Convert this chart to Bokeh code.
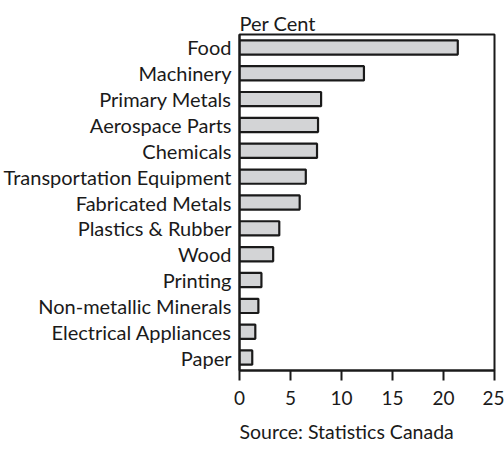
from bokeh.plotting import figure
from bokeh.models import FactorRange, Range1d, FixedTicker, Title
from bokeh.embed import file_html
from bokeh.resources import INLINE

categories = ["Food", "Machinery", "Primary Metals", "Aerospace Parts", "Chemicals",
              "Transportation Equipment", "Fabricated Metals", "Plastics & Rubber",
              "Wood", "Printing", "Non-metallic Minerals", "Electrical Appliances", "Paper"]
values = [21.4, 12.2, 8.0, 7.7, 7.6, 6.5, 5.9, 3.9, 3.3, 2.15, 1.85, 1.55, 1.25]
x_ticks = [0, 5, 10, 15, 20, 25]
source_text = "Source: Statistics Canada"

FONT = "Lato"
INK = "#1a1a1a"

p = figure(y_range=FactorRange(factors=list(reversed(categories)), range_padding=0),
           x_range=Range1d(0, 25),
           width=504, height=452,
           output_backend="svg", toolbar_location=None,
           min_border_left=238, min_border_right=10, min_border_top=34, min_border_bottom=80)

p.hbar(y=categories, right=values, height=0.55, left=0,
       fill_color="#d3d4d6", line_color=INK, line_width=2.2)

p.title.text = "Per Cent"
p.title.align = "left"
p.title.text_font = FONT
p.title.text_font_size = "20px"
p.title.text_font_style = "normal"
p.title.text_color = INK
p.title.standoff = 0

src = Title(text=source_text, align="left", text_font=FONT,
            text_font_size="19.5px", text_font_style="normal", text_color=INK,
            standoff=20)
p.add_layout(src, "below")

p.xgrid.visible = False
p.ygrid.visible = False
p.outline_line_color = INK
p.outline_line_width = 2
p.outline_line_alpha = 1

p.xaxis.ticker = FixedTicker(ticks=x_ticks)
p.xaxis.major_tick_out = 10
p.xaxis.major_tick_in = 0
p.xaxis.minor_tick_line_color = None
p.xaxis.axis_line_width = 2
p.xaxis.major_tick_line_width = 2
p.xaxis.axis_line_color = INK
p.xaxis.major_tick_line_color = INK
p.xaxis.major_label_text_font = FONT
p.xaxis.major_label_text_font_size = "19px"
p.xaxis.major_label_text_color = INK
p.xaxis.major_label_standoff = 10

p.yaxis.major_tick_line_color = None
p.yaxis.major_tick_out = 0
p.yaxis.major_tick_in = 0
p.yaxis.minor_tick_line_color = None
p.yaxis.axis_line_width = 2
p.yaxis.axis_line_color = INK
p.yaxis.major_label_text_font = FONT
p.yaxis.major_label_text_font_size = "20px"
p.yaxis.major_label_text_color = INK
p.yaxis.major_label_standoff = 8

open("out.html", "w").write(file_html(p, INLINE))
